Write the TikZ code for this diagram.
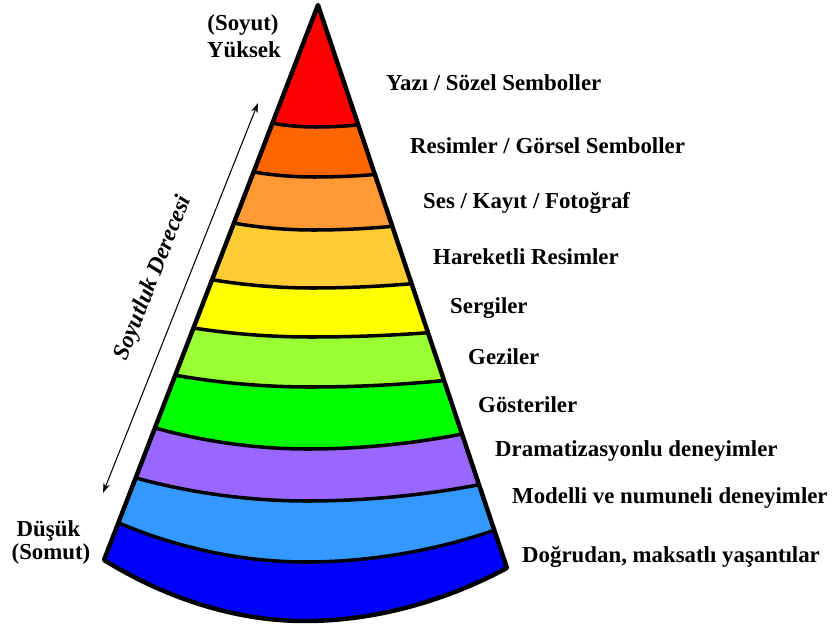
\documentclass[tikz,border=0pt]{standalone}
\usepackage{fontspec}
\setmainfont{Liberation Serif}
\usepackage{tikz}
\usetikzlibrary{arrows.meta}
\usepackage{xcolor}
\definecolor{bandred}{HTML}{FF0000}
\definecolor{bandorange}{HTML}{FF6600}
\definecolor{bandltorange}{HTML}{FF9933}
\definecolor{bandgold}{HTML}{FFCC33}
\definecolor{bandyellow}{HTML}{FFFF00}
\definecolor{bandltgreen}{HTML}{99FF33}
\definecolor{bandgreen}{HTML}{00FF00}
\definecolor{bandpurple}{HTML}{9966FF}
\definecolor{bandltblue}{HTML}{3399FF}
\definecolor{banddkblue}{HTML}{0000FF}

\begin{document}
\begin{tikzpicture}[x=0.3mm,y=-0.3mm,>={Stealth[length=3mm,width=2mm]},line join=round,
  lbl/.style={font=\fontsize{19.5}{23}\selectfont\bfseries,inner sep=0pt,anchor=base west},
  endlbl/.style={font=\fontsize{19.5}{23}\selectfont\bfseries,inner sep=0pt,anchor=base},
  rim/.style={line width=3pt},
  outline/.style={line width=3.8pt}]
\useasboundingbox (0,0) rectangle (834,627);
% cone points
\coordinate (apex) at (318,5);
\coordinate (l1) at (272.4,123.2);  \coordinate (v1) at (315,127);  \coordinate (r1) at (358.3,124.9);
\coordinate (l2) at (253.6,172);    \coordinate (v2) at (314,177);  \coordinate (r2) at (374.9,174.5);
\coordinate (l3) at (233.9,223.1);  \coordinate (v3) at (313,230);  \coordinate (r3) at (392.3,226.3);
\coordinate (l4) at (212.1,279.7);  \coordinate (v4) at (312,288);  \coordinate (r4) at (411.6,283.7);
\coordinate (l5) at (193.5,328);    \coordinate (v5) at (311,337);  \coordinate (r5) at (428,332.7);
\coordinate (l6) at (175.3,375.2);  \coordinate (v6) at (310,387);  \coordinate (r6) at (444.1,380.5);
\coordinate (l7) at (154.9,427.9);  \coordinate (v7) at (308,449);  \coordinate (r7) at (462,434);
\coordinate (l8) at (135.7,477.9);  \coordinate (v8) at (307,501);  \coordinate (r8) at (479,484.7);
\coordinate (l9) at (118.3,522.8);  \coordinate (v9) at (306,562);  \coordinate (r9) at (494.3,530.3);
\coordinate (l10) at (104,560);     \coordinate (v10) at (305,621); \coordinate (r10) at (507,568);
% bands, widest first
\fill[banddkblue] (apex) -- (l10) parabola bend (v10) (r10) -- cycle;
\fill[bandltblue] (apex) -- (l9) parabola bend (v9) (r9) -- cycle;
\fill[bandpurple] (apex) -- (l8) parabola bend (v8) (r8) -- cycle;
\fill[bandgreen] (apex) -- (l7) parabola bend (v7) (r7) -- cycle;
\fill[bandltgreen] (apex) -- (l6) parabola bend (v6) (r6) -- cycle;
\fill[bandyellow] (apex) -- (l5) parabola bend (v5) (r5) -- cycle;
\fill[bandgold] (apex) -- (l4) parabola bend (v4) (r4) -- cycle;
\fill[bandltorange] (apex) -- (l3) parabola bend (v3) (r3) -- cycle;
\fill[bandorange] (apex) -- (l2) parabola bend (v2) (r2) -- cycle;
\fill[bandred] (apex) -- (l1) parabola bend (v1) (r1) -- cycle;
% band edges
\draw[rim] (l1) parabola bend (v1) (r1);
\draw[rim] (l2) parabola bend (v2) (r2);
\draw[rim] (l3) parabola bend (v3) (r3);
\draw[rim] (l4) parabola bend (v4) (r4);
\draw[rim] (l5) parabola bend (v5) (r5);
\draw[rim] (l6) parabola bend (v6) (r6);
\draw[rim] (l7) parabola bend (v7) (r7);
\draw[rim] (l8) parabola bend (v8) (r8);
\draw[rim] (l9) parabola bend (v9) (r9);
\draw[outline] (apex) -- (l10) parabola bend (v10) (r10) -- cycle;
% abstraction arrow
\coordinate (arrlo) at (103,493);
\coordinate (arrhi) at (258,103);
\draw[<->,line width=0.9pt] (arrlo) -- node[sloped,pos=0.52,above=6.3mm,inner sep=0pt,font=\fontsize{20}{24}\selectfont\bfseries\itshape] (derece) {Soyutluk Derecesi} (arrhi);
% ends
\node[endlbl] (soyut) at (243,31) {(Soyut)};
\node[endlbl] (yuksek) at (244,58) {Yüksek};
\node[endlbl] (dusuk) at (48.5,536) {Düşük};
\node[endlbl] (somut) at (51,559) {(Somut)};
% band labels
\node[lbl] (yazi) at (386,91) {Yazı / Sözel Semboller};
\node[lbl] (resim) at (410,154) {Resimler / Görsel Semboller};
\node[lbl] (ses) at (423,208) {Ses / Kayıt / Fotoğraf};
\node[lbl] (hareket) at (433,264) {Hareketli Resimler};
\node[lbl] (sergi) at (450,313) {Sergiler};
\node[lbl] (gezi) at (468,364) {Geziler};
\node[lbl] (goster) at (478,412) {Gösteriler};
\node[lbl] (drama) at (495,456) {Dramatizasyonlu deneyimler};
\node[lbl] (model) at (512,503) {Modelli ve numuneli deneyimler};
\node[lbl] (dogru) at (522,562) {Doğrudan, maksatlı yaşantılar};
\end{tikzpicture}
\end{document}
